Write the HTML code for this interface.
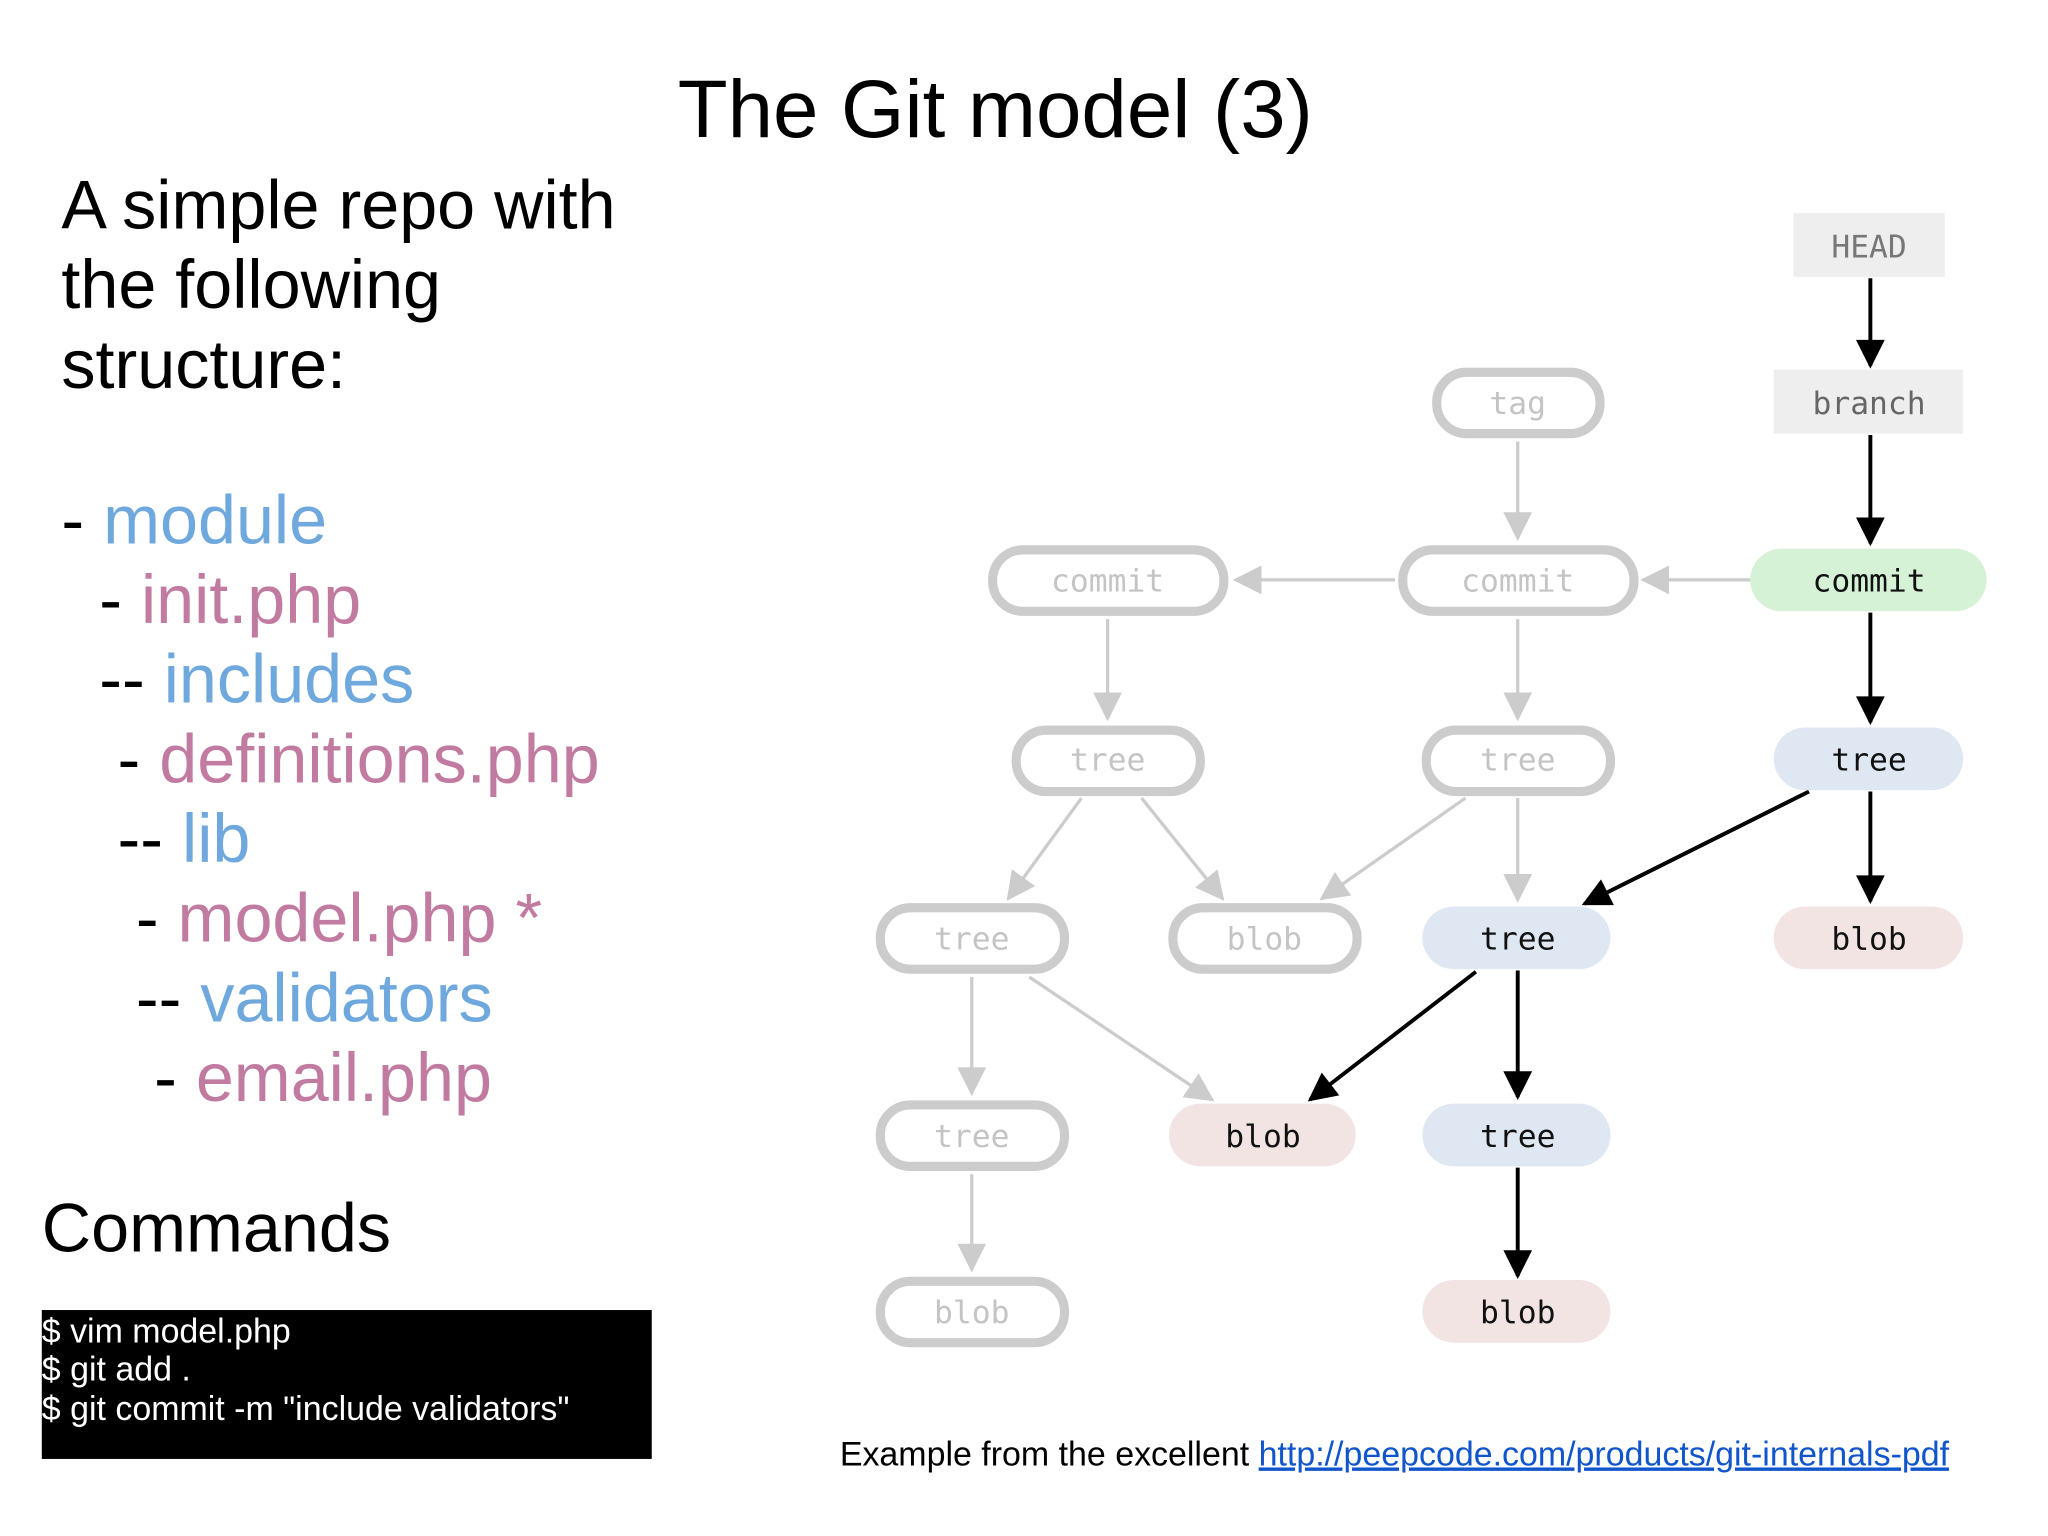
<!DOCTYPE html>
<html><head><meta charset="utf-8"><style>
html,body{margin:0;padding:0;background:#fff;}
svg{display:block;}
.m{font-family:"DejaVu Sans Mono","Liberation Mono",monospace;font-size:24px;text-anchor:middle;}
.s{font-family:"Liberation Sans",sans-serif;}
</style></head><body>
<svg width="2048" height="1536" viewBox="0 0 1568 1176" xmlns="http://www.w3.org/2000/svg">
<defs>
<marker id="gb" viewBox="0 0 10 10" refX="9" refY="5" markerWidth="28" markerHeight="22" markerUnits="userSpaceOnUse" orient="auto"><path d="M0,0 L10,5 L0,10 z" fill="#ccc"/></marker>
<marker id="b" viewBox="0 0 10 10" refX="9" refY="5" markerWidth="30" markerHeight="22" markerUnits="userSpaceOnUse" orient="auto"><path d="M0,0 L10,5 L0,10 z" fill="#000"/></marker>
</defs>
<rect width="1568" height="1176" fill="#fff"/>
<text class="s" x="762" y="105" font-size="62.5" text-anchor="middle">The Git model (3)</text>
<g class="s" font-size="52.3">
<text x="47" y="175">A simple repo with</text>
<text x="47" y="236">the following</text>
<text x="47" y="297">structure:</text>
<text x="47" y="416">- <tspan fill="#6fa8dc">module</tspan></text>
<text x="76" y="477">- <tspan fill="#c27ba0">init.php</tspan></text>
<text x="76" y="538">-- <tspan fill="#6fa8dc">includes</tspan></text>
<text x="90" y="599">- <tspan fill="#c27ba0">definitions.php</tspan></text>
<text x="90" y="660">-- <tspan fill="#6fa8dc">lib</tspan></text>
<text x="104" y="721">- <tspan fill="#c27ba0">model.php *</tspan></text>
<text x="104" y="782">-- <tspan fill="#6fa8dc">validators</tspan></text>
<text x="118" y="843">- <tspan fill="#c27ba0">email.php</tspan></text>
<text x="32" y="958">Commands</text>
</g>
<rect x="32" y="1003" width="467" height="114" fill="#000"/>
<g class="s" font-size="26" fill="#fff">
<text x="32" y="1028">$ vim model.php</text>
<text x="32" y="1057">$ git add .</text>
<text x="32" y="1087">$ git commit -m "include validators"</text>
</g>
<text class="s" x="643" y="1122" font-size="26">Example from the excellent <tspan fill="#1155cc" text-decoration="underline">http://peepcode.com/products/git-internals-pdf</tspan></text>

<g stroke="#ccc" stroke-width="2.5" fill="none">
<line x1="1162" y1="338" x2="1162" y2="412" marker-end="url(#gb)"/>
<line x1="1068" y1="444" x2="946" y2="444" marker-end="url(#gb)"/>
<line x1="1340" y1="444" x2="1258" y2="444" marker-end="url(#gb)"/>
<line x1="848" y1="474" x2="848" y2="550" marker-end="url(#gb)"/>
<line x1="1162" y1="474" x2="1162" y2="550" marker-end="url(#gb)"/>
<line x1="828" y1="611" x2="772" y2="688" marker-end="url(#gb)"/>
<line x1="874" y1="611" x2="936" y2="688" marker-end="url(#gb)"/>
<line x1="1122" y1="611" x2="1012" y2="688" marker-end="url(#gb)"/>
<line x1="1162" y1="611" x2="1162" y2="689" marker-end="url(#gb)"/>
<line x1="744" y1="748" x2="744" y2="837" marker-end="url(#gb)"/>
<line x1="788" y1="748" x2="928" y2="842" marker-end="url(#gb)"/>
<line x1="744" y1="899" x2="744" y2="972" marker-end="url(#gb)"/>
</g>
<g stroke="#000" stroke-width="3" fill="none">
<line x1="1432" y1="213" x2="1432" y2="280" marker-end="url(#b)"/>
<line x1="1432" y1="333" x2="1432" y2="416" marker-end="url(#b)"/>
<line x1="1432" y1="469" x2="1432" y2="553" marker-end="url(#b)"/>
<line x1="1432" y1="606" x2="1432" y2="690" marker-end="url(#b)"/>
<line x1="1385" y1="606" x2="1213" y2="692" marker-end="url(#b)"/>
<line x1="1130" y1="744" x2="1003" y2="842" marker-end="url(#b)"/>
<line x1="1162" y1="743" x2="1162" y2="840" marker-end="url(#b)"/>
<line x1="1162" y1="894" x2="1162" y2="977" marker-end="url(#b)"/>
</g>
<rect x="1373" y="163" width="116" height="49" fill="#eee"/>
<text class="m" x="1431" y="197" fill="#777">HEAD</text>
<rect x="1358" y="283" width="145" height="49" fill="#eee"/>
<text class="m" x="1431" y="317" fill="#666">branch</text>

<g fill="#fff" stroke="#ccc" stroke-width="7">
<rect x="1100" y="285" width="125" height="47" rx="23"/>
<rect x="760" y="421" width="177" height="47" rx="23"/>
<rect x="1074" y="421" width="177" height="47" rx="23"/>
<rect x="778" y="559" width="141" height="47" rx="23"/>
<rect x="1092" y="559" width="141" height="47" rx="23"/>
<rect x="674" y="695" width="141" height="47" rx="23"/>
<rect x="898" y="695" width="141" height="47" rx="23"/>
<rect x="674" y="846" width="141" height="47" rx="23"/>
<rect x="674" y="981" width="141" height="47" rx="23"/>
</g>
<g class="m" fill="#c4c4c4">
<text x="1162" y="317">tag</text>
<text x="848" y="453">commit</text>
<text x="1162" y="453">commit</text>
<text x="848" y="590">tree</text>
<text x="1162" y="590">tree</text>
<text x="744" y="727">tree</text>
<text x="968" y="727">blob</text>
<text x="744" y="878">tree</text>
<text x="744" y="1013">blob</text>
</g>
<rect x="1340" y="420" width="181" height="48" rx="24" fill="#d5f2d7"/>
<rect x="1358" y="557" width="145" height="48" rx="24" fill="#dfe7f3"/>
<rect x="1089" y="694" width="144" height="48" rx="24" fill="#dfe7f3"/>
<rect x="1358" y="694" width="145" height="48" rx="24" fill="#f3e4e4"/>
<rect x="895" y="845" width="143" height="48" rx="24" fill="#f3e4e4"/>
<rect x="1089" y="845" width="144" height="48" rx="24" fill="#dfe7f3"/>
<rect x="1089" y="980" width="144" height="48" rx="24" fill="#f3e4e4"/>
<g class="m" fill="#111">
<text x="1431" y="453">commit</text>
<text x="1431" y="590">tree</text>
<text x="1162" y="727">tree</text>
<text x="1431" y="727">blob</text>
<text x="967" y="878">blob</text>
<text x="1162" y="878">tree</text>
<text x="1162" y="1013">blob</text>
</g>
</svg>
</body></html>
